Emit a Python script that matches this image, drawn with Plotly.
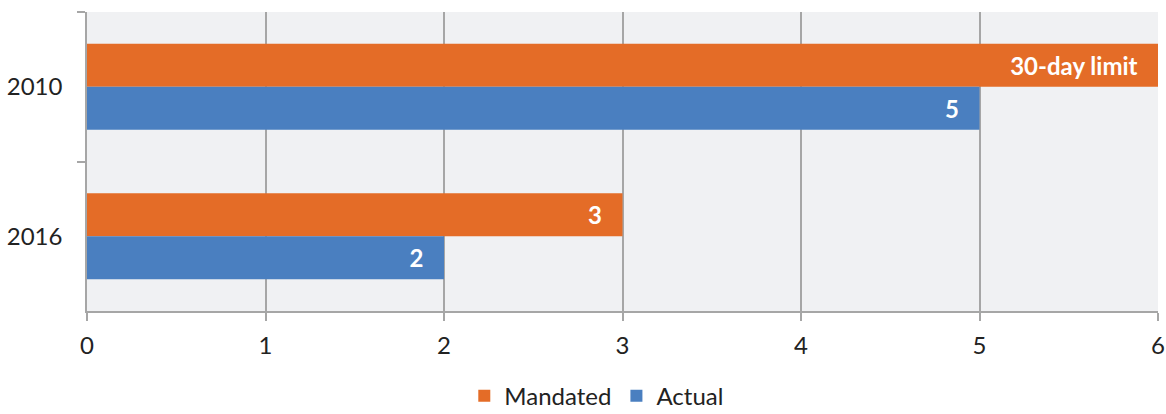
import plotly.graph_objects as go

# Response times in days
years = ["2010", "2016"]
mandated_days = [30, 3]
actual_days = [5, 2]
mandated_labels = ["30-day limit", "3"]
actual_labels = ["5", "2"]
x_ticks = [0, 1, 2, 3, 4, 5, 6]

X_MAX = 6
ORANGE = "#E46C27"
BLUE = "#4A7FC0"
GRID = "#A6A6A6"
FONT = "Lato, 'Open Sans', sans-serif"
PAD = "\u00a0\u00a0\u00a0"  # keeps bar labels clear of the bar ends

# Bars longer than the axis are drawn to its edge
mandated_shown = [min(v, X_MAX) for v in mandated_days]

label_font = dict(color="white", size=24, family=FONT, weight="bold")

fig = go.Figure()
fig.add_trace(go.Bar(
    y=years, x=mandated_shown, orientation="h", name="Mandated",
    marker=dict(color=ORANGE, line=dict(width=0)),
    text=[t + PAD for t in mandated_labels], textposition="inside",
    insidetextanchor="end", textfont=label_font, textangle=0,
    hoverinfo="skip",
))
fig.add_trace(go.Bar(
    y=years, x=actual_days, orientation="h", name="Actual",
    marker=dict(color=BLUE, line=dict(width=0)),
    text=[t + PAD for t in actual_labels], textposition="inside",
    insidetextanchor="end", textfont=label_font, textangle=0,
    hoverinfo="skip",
))

fig.update_layout(
    width=1166, height=414,
    margin=dict(l=87, r=8, t=12, b=103, autoexpand=False),
    barmode="group", bargap=0.425, bargroupgap=0,
    paper_bgcolor="white", plot_bgcolor="#F0F1F3",
    font=dict(family=FONT, size=24, color="#222222"),
    showlegend=True,
    legend=dict(orientation="h", x=0.476, xanchor="center", y=-0.285,
                yanchor="middle", font=dict(size=24), itemwidth=30,
                tracegroupgap=0),
    xaxis=dict(range=[0, X_MAX], tickvals=x_ticks, showgrid=True,
               gridcolor=GRID, gridwidth=1.5, showline=True, linecolor=GRID,
               linewidth=1.5, ticks="outside", ticklen=8, tickcolor=GRID,
               tickwidth=1.5, zeroline=False, fixedrange=True,
               automargin=False, ticklabelstandoff=4,
               tickfont=dict(size=24)),
    yaxis=dict(categoryorder="array", categoryarray=years, autorange="reversed",
               showline=True, linecolor=GRID, linewidth=1.5,
               ticks="outside", tickson="boundaries", ticklen=8,
               tickcolor=GRID, tickwidth=1.5, showgrid=False,
               fixedrange=True, automargin=False, ticklabelstandoff=18,
               tickfont=dict(size=24)),
)

fig.write_html("out.html")
